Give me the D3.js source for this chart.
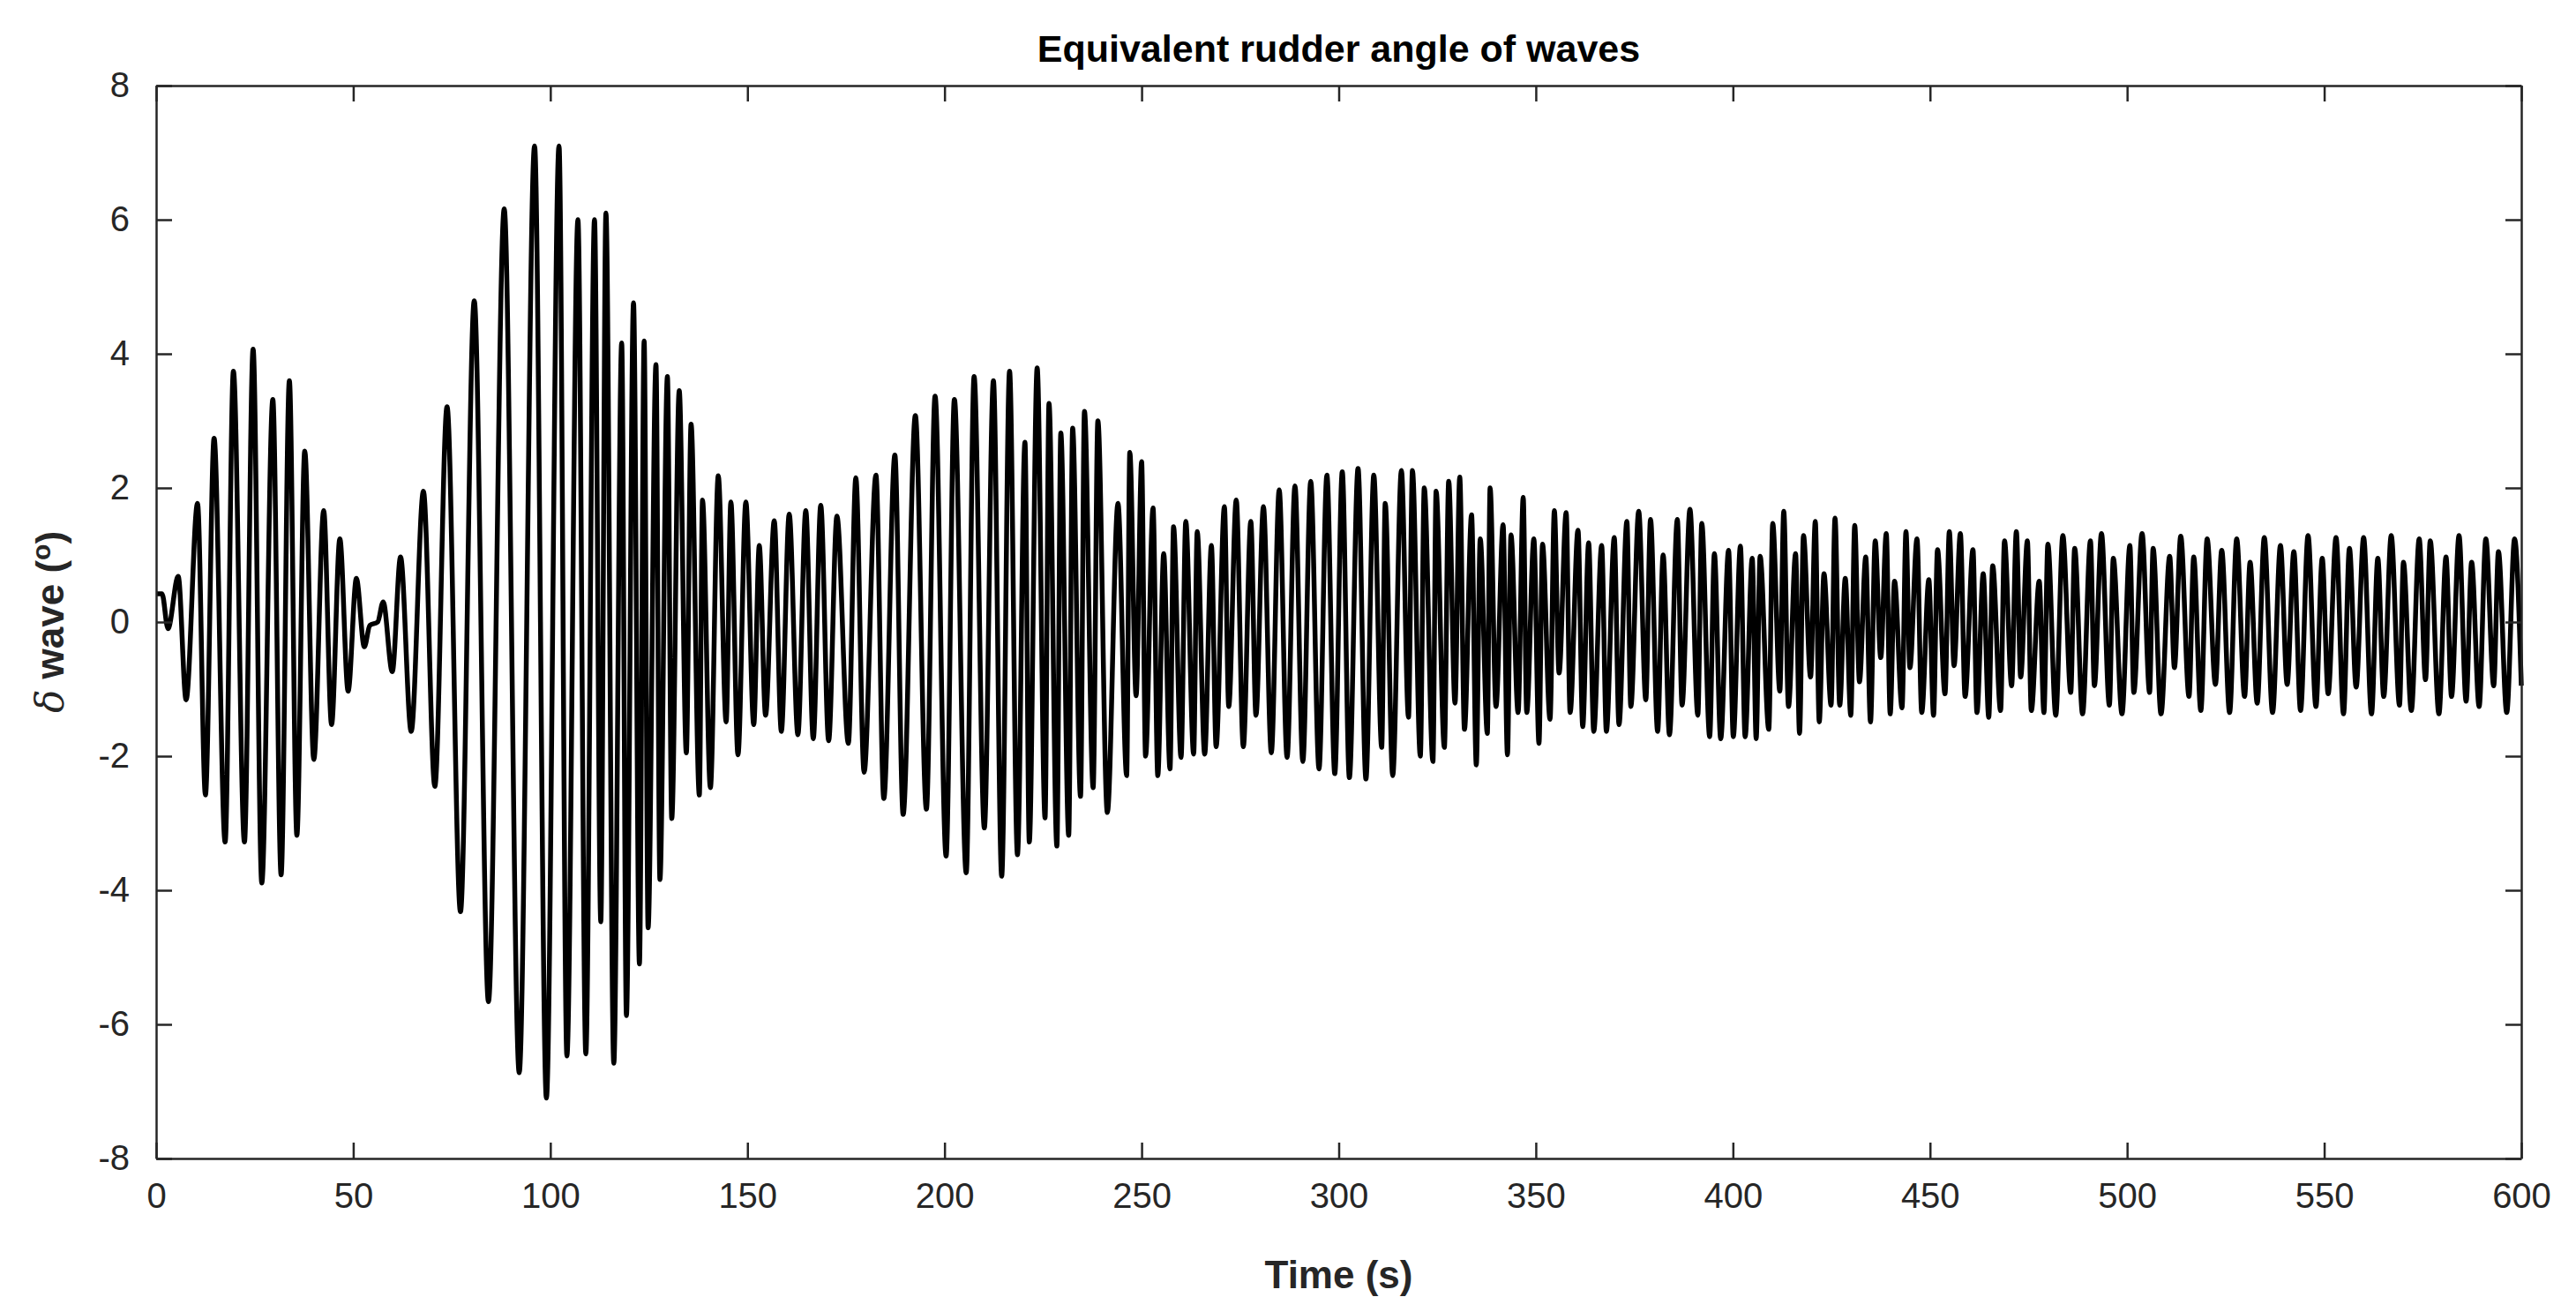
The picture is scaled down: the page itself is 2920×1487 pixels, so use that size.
<!DOCTYPE html>
<html>
<head>
<meta charset="utf-8">
<script src="https://cdn.jsdelivr.net/npm/d3@7"></script>
<style>
  html, body { margin: 0; padding: 0; background: #fff; }
  svg { display: block; font-family: Arial, "Liberation Sans", sans-serif; }
</style>
</head>
<body>
<div id="chart"></div>
<script>
'use strict';

// Extrema of the signal (time in s, angle in deg)
const timeSec = [
  0, 1.5, 3, 5.6, 7.6, 10.5, 12.5, 14.7, 17.5, 19.6, 22.4, 24.6, 26.8, 29.6, 31.7, 33.8, 35.7, 37.7, 40, 42.5,
  44.5, 46.6, 48.7, 50.8, 52.8, 54.2, 56.2, 57.6, 59.9, 62, 64.7, 67.8, 70.7, 73.8, 77.2, 80.7, 84.3, 88.3, 92.1, 96,
  99, 102.2, 104.2, 107, 109, 111.2, 112.8, 114.1, 116.1, 118.1, 119.3, 121.1, 122.6,
  123.8, 124.8, 126.8, 127.8, 129.7, 130.8, 132.7, 134.5, 135.7, 137.8, 138.6, 140.6, 142.6, 144.6, 145.8, 147.6,
  149.6, 151.6, 153, 154.6, 156.8, 158.6, 160.6, 162.8, 164.8, 166.7, 168.6, 170.6, 172.7, 175.6, 177.5, 179.6,
  182.6, 184.6, 187.4, 189.5, 192.6, 195.4, 197.6, 200.4, 202.5, 205.5, 207.5, 210.1, 212.4, 214.5, 216.5, 218.5,
  220.4, 221.5, 223.5, 225.5, 226.5, 228.5, 229.5, 231.5, 232.5, 234.5, 235.5, 237.7, 238.9, 241.3,
  244.0, 246.2, 247.0, 248.6, 250.0, 251.0, 252.9, 254.1, 255.6, 257.2, 258.1, 260.0, 261.2, 263.2, 264.1, 266.0,
  267.7, 268.9, 271.0, 272.1, 274.0, 275.8, 277.7, 279.0, 280.9, 282.9, 284.9, 286.9, 288.9, 290.9, 292.9, 295.0,
  297.0, 299.0, 300.9, 302.7, 304.9, 306.9, 308.9, 310.9, 311.8, 313.7, 315.9, 317.7, 318.7, 320.7, 321.7, 323.9,
  324.7, 326.8, 327.9, 329.5, 330.7, 331.9, 333.7, 334.9, 335.9, 337.7, 338.4, 339.9, 341.7, 342.8, 343.7, 345.5,
  346.8, 347.7, 349.5, 350.8, 351.7, 353.6, 354.7, 355.9, 357.7, 358.7, 360.7, 361.9, 363.4, 364.7,
  366.7, 367.9, 369.9, 371.1, 373.1, 374.1, 376.1, 377.9, 379.1, 380.9, 382.3, 383.9, 385.9, 387.1, 389.1, 391.1,
  392.1, 394.1, 395.3, 396.9, 398.9, 400.1, 401.9, 403.1, 404.9, 405.9, 406.9, 409.1, 410.1, 411.9, 412.9, 414.1,
  415.9, 416.9, 417.9, 419.7, 420.9, 421.9, 423.1, 424.9, 425.9, 427.1, 428.5, 429.9, 430.9, 432.1, 433.7, 434.9,
  436.1, 437.5, 438.9, 439.9, 441, 442.9, 443.9, 444.9, 446.7, 447.9, 449.7, 450.9, 451.9, 453.8, 454.9, 456.1,
  457.7, 458.9, 460.9, 461.9, 463.5, 464.9, 465.9, 467.9, 468.9, 470.7, 471.9, 473, 474.7, 475.7, 477.7, 478.9,
  479.9, 481.9, 483.7, 485.7, 486.7, 488.7,
  490.7, 491.7, 493.5, 495.5, 496.5, 498.7, 500.7, 501.7, 503.8, 505.7, 506.6, 508.6, 510.8, 512, 513.6, 515.7,
  516.9, 518.7, 520.3, 522.4, 524, 526, 527.8, 529.8, 531.2, 533, 534.8, 536.9, 538.9, 540.6, 542.3, 544,
  545.9, 547.9, 549.5, 551, 553, 554.9, 556.4, 558.1, 560, 562, 563.6, 565.1, 567, 569.1, 570.1, 572.1,
  574.1, 575.7, 576.9, 579.1, 580.9, 582.3, 584.2, 586, 587.4, 589.3, 591, 593, 594.2, 596.3, 598.3, 600
];
const deltaWave = [
  0.42, 0.42, -0.1, 0.68, -1.16, 1.77, -2.58, 2.74, -3.28, 3.74, -3.28, 4.07, -3.89, 3.32, -3.77, 3.6, -3.18, 2.55, -2.05, 1.66,
  -1.53, 1.24, -1.03, 0.65, -0.37, -0.05, 0, 0.3, -0.74, 0.97, -1.63, 1.95, -2.45, 3.21, -4.32, 4.79, -5.66, 6.16, -6.72, 7.1,
  -7.1, 7.1, -6.47, 6.0, -6.44, 6.0, -4.47, 6.1, -6.58, 4.16, -5.87, 4.76, -5.1,
  4.19, -4.56, 3.84, -3.84, 3.66, -2.93, 3.45, -1.95, 2.95, -2.58, 1.82, -2.47, 2.18, -1.49, 1.79, -1.98,
  1.79, -1.53, 1.14, -1.39, 1.51, -1.63, 1.61, -1.68, 1.66, -1.74, 1.74, -1.77, 1.58, -1.81, 2.15, -2.24,
  2.19, -2.63, 2.49, -2.87, 3.08, -2.79, 3.37, -3.49, 3.32, -3.74, 3.66, -3.07, 3.6, -3.79, 3.74, -3.47,
  2.68, -3.28, 3.79, -2.92, 3.26, -3.34, 2.82, -3.18, 2.89, -2.6, 3.14, -2.47, 3.0, -2.84,
  1.77, -2.29, 2.53, -1.1, 2.39, -2.0, 1.7, -2.29, 1.02, -2.19, 1.42, -2.02, 1.5, -1.97, 1.35, -1.97,
  1.14, -1.86, 1.72, -1.26, 1.82, -1.86, 1.5, -1.39, 1.72, -1.95, 1.97, -2.02, 2.03, -2.08, 2.1, -2.19,
  2.19, -2.26, 2.24, -2.32, 2.29, -2.34, 2.19, -1.87, 1.77, -2.29, 2.26, -1.42, 2.26, -2.0, 2.0, -2.08,
  1.95, -1.87, 2.1, -1.21, 2.16, -1.6, 1.6, -2.13, 1.24, -1.66, 2.0, -1.26, 1.45, -1.98, 1.3, -1.35,
  1.86, -1.35, 1.24, -1.81, 1.16, -1.45, 1.66, -0.76, 1.63, -1.35, 1.37, -1.56, 1.18, -1.63,
  1.14, -1.63, 1.26, -1.53, 1.5, -1.26, 1.65, -1.16, 1.53, -1.63, 1.0, -1.68, 1.53, -1.24, 1.68, -1.39,
  1.47, -1.71, 1.02, -1.74, 1.07, -1.71, 1.13, -1.71, 0.95, -1.74, 0.98, -1.6, 1.47, -1.03, 1.65, -1.26,
  1.02, -1.66, 1.29, -0.82, 1.5, -1.49, 0.72, -1.24, 1.55, -1.24, 0.65, -1.39, 1.44, -0.89, 0.97, -1.49,
  1.21, -0.53, 1.32, -1.37, 0.61, -1.28, 1.35, -0.68, 1.24, -1.35, 0.63, -1.39, 1.08, -1.07, 1.35, -0.65,
  1.32, -1.11, 1.08, -1.35, 0.72, -1.42, 0.84, -1.32, 1.21, -0.95, 1.35, -0.82, 1.21, -1.32, 0.61, -1.35,
  1.16, -1.39, 1.29, -1.05, 1.1, -1.37,
  1.21, -0.95, 1.32, -1.24, 0.95, -1.37, 1.14, -1.05, 1.32, -1.05, 1.1, -1.37, 0.98, -0.68, 1.28, -1.11,
  0.97, -1.32, 1.24, -0.93, 1.07, -1.35, 1.24, -1.11, 0.89, -1.21, 1.26, -1.35, 1.14, -0.93, 1.05, -1.32,
  1.29, -1.26, 0.95, -1.07, 1.26, -1.37, 1.1, -0.97, 1.26, -1.37, 0.95, -1.11, 1.29, -1.24, 0.89, -1.32,
  1.24, -0.86, 1.21, -1.37, 0.97, -1.11, 1.29, -1.18, 0.89, -1.26, 1.24, -0.95, 1.05, -1.35, 1.24, -0.95
];
const xTicks = [0, 50, 100, 150, 200, 250, 300, 350, 400, 450, 500, 550, 600];
const yTicks = [-8, -6, -4, -2, 0, 2, 4, 6, 8];

const W = 2920, H = 1487;
const L = 177, R = 2858, T = 97, B = 1313;
const axisColor = '#262626';

const svg = d3.select('#chart').append('svg')
    .attr('width', W).attr('height', H);

const x = d3.scaleLinear().domain([0, 600]).range([L, R]);
const y = d3.scaleLinear().domain([-8, 8]).range([B, T]);

// ─── Signal ────────────────────────────────────────────────────────────────
const points = timeSec.map(function (t, i) { return [t, deltaWave[i]]; });
const line = d3.line()
    .x(function (d) { return x(d[0]); })
    .y(function (d) { return y(d[1]); })
    .curve(d3.curveMonotoneX);

svg.append('path')
    .datum(points)
    .attr('d', line)
    .attr('fill', 'none')
    .attr('stroke', '#000')
    .attr('stroke-width', 5.5)
    .attr('stroke-linejoin', 'round');

// ─── Axes (MATLAB box with inward ticks) ───────────────────────────────────
const tickLen = 18;
const plainFmt = function (d) { return String(d); }; // ASCII hyphen like MATLAB
function styleAxis(g) {
    g.selectAll('path, line').attr('stroke', axisColor).attr('stroke-width', 2.5);
    g.selectAll('text').attr('fill', axisColor).style('font-size', '40px');
}

svg.append('g').attr('transform', 'translate(0,' + B + ')')
    .call(d3.axisBottom(x).tickValues(xTicks).tickFormat(plainFmt).tickSizeInner(-tickLen).tickSizeOuter(0).tickPadding(28))
    .call(styleAxis);
svg.append('g').attr('transform', 'translate(0,' + T + ')')
    .call(d3.axisTop(x).tickValues(xTicks).tickSizeInner(-tickLen).tickSizeOuter(0).tickFormat(''))
    .call(styleAxis);
svg.append('g').attr('transform', 'translate(' + L + ',0)')
    .call(d3.axisLeft(y).tickValues(yTicks).tickFormat(plainFmt).tickSizeInner(-tickLen).tickSizeOuter(0).tickPadding(30))
    .call(styleAxis);
svg.append('g').attr('transform', 'translate(' + R + ',0)')
    .call(d3.axisRight(y).tickValues(yTicks).tickSizeInner(-tickLen).tickSizeOuter(0).tickFormat(''))
    .call(styleAxis);

// ─── Labels ────────────────────────────────────────────────────────────────
svg.append('text')
    .attr('x', (L + R) / 2).attr('y', 70)
    .attr('text-anchor', 'middle')
    .style('font-size', '43px').style('font-weight', 'bold')
    .text('Equivalent rudder angle of waves');

svg.append('text')
    .attr('x', (L + R) / 2).attr('y', 1460)
    .attr('text-anchor', 'middle')
    .attr('fill', axisColor)
    .style('font-size', '44px').style('font-weight', 'bold')
    .text('Time (s)');

const yl = svg.append('text')
    .attr('transform', 'translate(72,' + (T + B) / 2 + ') rotate(-90)')
    .attr('text-anchor', 'middle')
    .attr('fill', axisColor)
    .style('font-size', '44px').style('font-weight', 'bold');
yl.append('tspan').style('font-style', 'italic').style('font-weight', 'normal')
    .style('font-family', '"DejaVu Serif", serif').text('δ');
yl.append('tspan').text(' wave (');
yl.append('tspan').attr('dy', -15).style('font-size', '30px').text('o');
yl.append('tspan').attr('dy', 15).text(')');
</script>
</body>
</html>
